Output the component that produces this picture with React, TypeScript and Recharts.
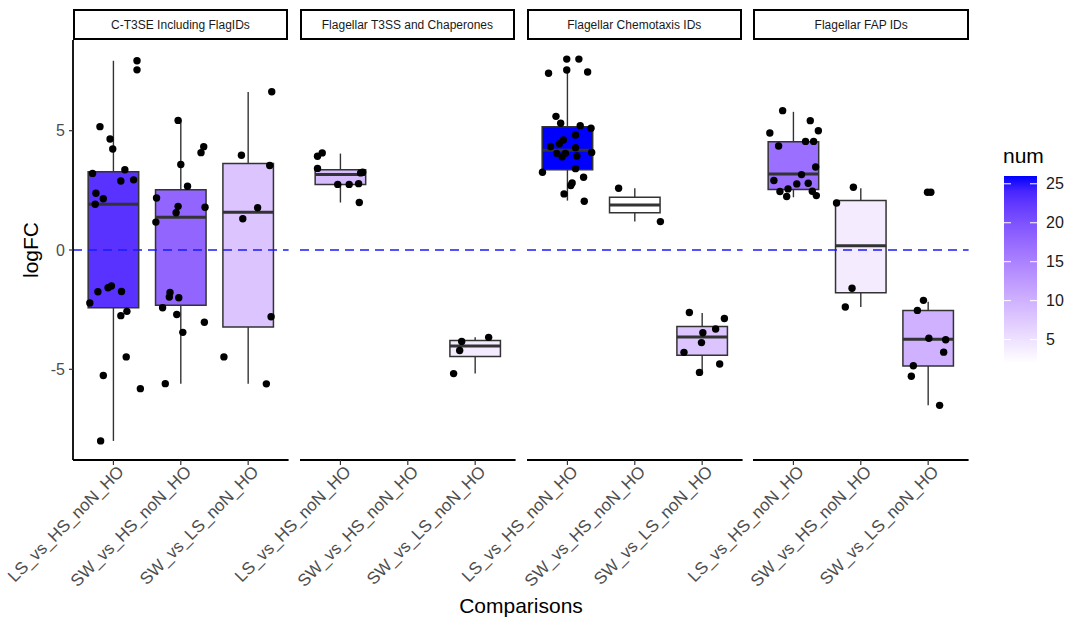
import React from "react";
import {
  ScatterChart,
  Scatter,
  XAxis,
  YAxis,
  ReferenceArea,
  ReferenceLine,
} from "recharts";

const facets = [
  "C-T3SE Including FlagIDs",
  "Flagellar T3SS and Chaperones",
  "Flagellar Chemotaxis IDs",
  "Flagellar FAP IDs",
];
const comparisons = ["LS_vs_HS_noN_HO", "SW_vs_HS_noN_HO", "SW_vs_LS_noN_HO"];
const yTicks = [-5, 0, 5];
const legendTicks = [5, 10, 15, 20, 25];
const numRange = [2, 26];

// box stats: [comparison, num, lower whisker, q1, median, q3, upper whisker]
const boxesCT3SE = [
  [1, 23, -8.0, -2.42, 1.92, 3.28, 7.93],
  [2, 18, -5.6, -2.31, 1.37, 2.53, 5.43],
  [3, 8, -5.6, -3.23, 1.58, 3.63, 6.62],
];
const boxesT3SS = [
  [1, 9, 1.99, 2.75, 3.16, 3.36, 4.04],
  [3, 4, -5.18, -4.46, -4.02, -3.79, -3.66],
];
const boxesChemo = [
  [1, 26, 2.07, 3.36, 4.18, 5.17, 7.54],
  [2, 2, 1.19, 1.56, 1.89, 2.21, 2.59],
  [3, 8, -5.21, -4.41, -3.65, -3.21, -2.64],
];
const boxesFAP = [
  [1, 17, 2.21, 2.54, 3.19, 4.54, 5.79],
  [2, 4, -2.39, -1.79, 0.18, 2.07, 2.59],
  [3, 10, -6.51, -4.86, -3.74, -2.53, -2.17],
];

// jittered genes: [comparison, jitter, logFC]
const pointsCT3SE = [
  [1, -0.2, 5.17], [1, -0.05, 4.65], [1, -0.01, 4.23], [1, 0.17, 3.36],
  [1, -0.31, 3.21], [1, 0.11, 2.89], [1, 0.3, 2.94], [1, -0.26, 2.38],
  [1, -0.15, 2.15], [1, -0.27, 1.92], [1, -0.35, -2.22], [1, -0.23, -1.75],
  [1, -0.08, -1.58], [1, -0.03, -1.51], [1, 0.12, -1.74], [1, 0.11, -2.75],
  [1, 0.2, -2.57], [1, 0.19, -4.48], [1, -0.15, -5.26], [1, 0.4, -5.81],
  [1, -0.19, -8.0], [1, 0.35, 7.93], [1, 0.35, 7.55],
  [2, -0.04, 5.43], [2, 0.34, 4.33], [2, 0.3, 4.08], [2, 0.0, 3.58],
  [2, 0.1, 2.67], [2, -0.36, 2.18], [2, -0.04, 1.83], [2, -0.07, 1.56],
  [2, 0.36, 1.79], [2, -0.37, 1.17], [2, -0.16, -1.78], [2, -0.17, -1.97],
  [2, -0.03, -2.0], [2, -0.27, -2.42], [2, -0.06, -2.7], [2, 0.35, -3.03],
  [2, 0.03, -3.45], [2, -0.23, -5.6],
  [3, 0.35, 6.63], [3, -0.1, 3.97], [3, 0.32, 3.54], [3, 0.14, 1.77],
  [3, -0.08, 1.31], [3, 0.34, -2.8], [3, -0.36, -4.48], [3, 0.27, -5.61],
];
const pointsT3SS = [
  [1, -0.34, 3.93], [1, -0.27, 4.07], [1, -0.34, 3.42], [1, -0.04, 2.75],
  [1, 0.13, 2.75], [1, 0.27, 2.78], [1, 0.3, 3.23], [1, 0.33, 3.26],
  [1, 0.28, 1.99],
  [3, -0.2, -3.83], [3, -0.23, -4.21], [3, 0.2, -3.66], [3, -0.32, -5.18],
];
const pointsChemo = [
  [1, -0.01, 8.0], [1, 0.17, 8.0], [1, -0.28, 7.41], [1, -0.01, 7.54],
  [1, 0.3, 7.46], [1, -0.17, 5.6], [1, -0.1, 5.31], [1, 0.19, 5.21],
  [1, 0.35, 5.1], [1, 0.12, 4.82], [1, -0.06, 4.61], [1, -0.25, 4.34],
  [1, 0.12, 4.29], [1, -0.16, 4.05], [1, -0.03, 4.05], [1, -0.08, 3.91],
  [1, 0.14, 3.94], [1, 0.36, 4.09], [1, 0.12, 3.41], [1, -0.37, 3.26],
  [1, 0.24, 3.05], [1, 0.07, 2.81], [1, 0.05, 2.7], [1, -0.05, 2.35],
  [1, 0.25, 2.04], [1, -0.12, 4.45],
  [2, -0.24, 2.59], [2, 0.38, 1.19],
  [3, -0.19, -2.62], [3, 0.33, -2.87], [3, 0.2, -3.31], [3, 0.01, -3.47],
  [3, -0.01, -3.88], [3, -0.27, -4.29], [3, 0.26, -4.78], [3, -0.04, -5.13],
];
const pointsFAP = [
  [1, -0.16, 5.84], [1, 0.25, 5.42], [1, 0.37, 5.0], [1, -0.35, 4.9],
  [1, 0.18, 4.55], [1, 0.3, 4.55], [1, -0.22, 4.36], [1, 0.33, 3.48],
  [1, 0.12, 3.16], [1, -0.29, 2.91], [1, 0.05, 2.77], [1, 0.22, 2.8],
  [1, -0.08, 2.56], [1, -0.2, 2.45], [1, 0.28, 2.46], [1, -0.1, 2.24],
  [1, 0.34, 2.28],
  [2, -0.11, 2.63], [2, -0.36, 1.97], [2, -0.13, -1.6], [2, -0.23, -2.39],
  [3, -0.01, 2.42], [3, 0.04, 2.42], [3, -0.07, -2.11], [3, -0.16, -2.53],
  [3, 0.01, -3.7], [3, 0.26, -3.76], [3, 0.23, -4.28], [3, -0.22, -4.85],
  [3, -0.25, -5.29], [3, 0.17, -6.51],
];

const facetBoxes = [boxesCT3SE, boxesT3SS, boxesChemo, boxesFAP];
const facetPoints = [pointsCT3SE, pointsT3SS, pointsChemo, pointsFAP];

// layout
const PANEL_LEFT = 72.7;
const PANEL_STEP = 226.9;
const PANEL_W = 215.6;
const PLOT_TOP = 40;
const PLOT_H = 420;
const AXIS_H = 140;
const PAD = 72;
const Y_AXIS_W = 30;
const BOX_HALF = 0.375;

// white -> blue ramp in CIELAB like ggplot's scale_fill_gradient
function labToHex(L: number, a: number, b: number) {
  const fy = (L + 16) / 116;
  const fx = fy + a / 500;
  const fz = fy - b / 200;
  const inv = (t: number) =>
    t > 6 / 29 ? t * t * t : 3 * (6 / 29) * (6 / 29) * (t - 4 / 29);
  const X = 0.95047 * inv(fx);
  const Y = inv(fy);
  const Z = 1.08883 * inv(fz);
  const lin = [
    3.2406 * X - 1.5372 * Y - 0.4986 * Z,
    -0.9689 * X + 1.8758 * Y + 0.0415 * Z,
    0.0557 * X - 0.204 * Y + 1.057 * Z,
  ];
  return (
    "#" +
    lin
      .map((c) => {
        const v = c <= 0.0031308 ? 12.92 * c : 1.055 * Math.pow(c, 1 / 2.4) - 0.055;
        return Math.round(Math.max(0, Math.min(1, v)) * 255)
          .toString(16)
          .padStart(2, "0");
      })
      .join("")
  );
}

function fillFor(num: number) {
  const t = (num - numRange[0]) / (numRange[1] - numRange[0]);
  return labToHex(100 + (32.3 - 100) * t, 79.19 * t, -107.86 * t);
}

const CmpTick = (props: any) => {
  const { x, y, payload } = props;
  return (
    <text
      x={x}
      y={y}
      dy="0.72em"
      dx={4}
      textAnchor="end"
      transform={`rotate(-45, ${x}, ${y})`}
      fill="#4d4d4d"
      fontSize={17}
    >
      {comparisons[payload.value - 1]}
    </text>
  );
};

const Dot = (props: any) => (
  <circle cx={props.cx} cy={props.cy} r={3.7} fill="#000" />
);

function Panel({ idx }: { idx: number }) {
  const boxes = facetBoxes[idx];
  const pts = facetPoints[idx].map(([c, j, y]) => ({ x: c + j, y }));
  const left = PANEL_LEFT + idx * PANEL_STEP;
  const first = idx === 0;
  return (
    <div style={{ position: "absolute", left: left - PAD, top: PLOT_TOP }}>
      <ScatterChart
        width={PAD + PANEL_W + 12}
        height={PLOT_H + AXIS_H}
        margin={{ top: 0, right: 12, bottom: 0, left: first ? PAD - Y_AXIS_W : PAD }}
      >
        <XAxis
          type="number"
          dataKey="x"
          domain={[0.4, 3.6]}
          ticks={[1, 2, 3]}
          interval={0}
          height={AXIS_H}
          tick={<CmpTick />}
          tickSize={5}
          tickMargin={2}
          tickLine={{ stroke: "#333", strokeWidth: 1.2 }}
          axisLine={{ stroke: "#000", strokeWidth: 1.8 }}
          allowDataOverflow
        />
        <YAxis
          type="number"
          dataKey="y"
          domain={[-8.8, 8.8]}
          ticks={yTicks}
          width={Y_AXIS_W}
          hide={!first}
          tick={{ fill: "#4d4d4d", fontSize: 16 }}
          tickSize={4}
          tickMargin={4}
          tickLine={{ stroke: "#333", strokeWidth: 1.2 }}
          axisLine={{ stroke: "#000", strokeWidth: 1.8 }}
          allowDataOverflow
        />
        {boxes.map(([c, num, lo, q1, med, q3, hi]) => (
          <ReferenceArea
            key={"a" + c}
            x1={c - BOX_HALF}
            x2={c + BOX_HALF}
            y1={q1}
            y2={q3}
            fill={fillFor(num)}
            fillOpacity={1}
            stroke="#333"
            strokeWidth={1.5}
          />
        ))}
        {boxes.map(([c, num, lo, q1, med, q3, hi]) => (
          <ReferenceLine
            key={"wu" + c}
            segment={[{ x: c, y: q3 }, { x: c, y: hi }]}
            stroke="#333"
            strokeWidth={1.4}
          />
        ))}
        {boxes.map(([c, num, lo, q1, med, q3, hi]) => (
          <ReferenceLine
            key={"wl" + c}
            segment={[{ x: c, y: lo }, { x: c, y: q1 }]}
            stroke="#333"
            strokeWidth={1.4}
          />
        ))}
        {boxes.map(([c, num, lo, q1, med, q3, hi]) => (
          <ReferenceLine
            key={"m" + c}
            segment={[{ x: c - BOX_HALF, y: med }, { x: c + BOX_HALF, y: med }]}
            stroke="#333"
            strokeWidth={3}
          />
        ))}
        <ReferenceLine y={0} stroke="#1a1aff" strokeWidth={1.6} strokeDasharray="9 6" />
        <Scatter data={pts} shape={<Dot />} isAnimationActive={false} />
      </ScatterChart>
    </div>
  );
}

export default function App() {
  const barTop = 176;
  const barH = 187;
  const stops = Array.from({ length: 13 }, (_, k) => k / 12);
  const tickY = (v: number) =>
    barTop + ((numRange[1] - v) / (numRange[1] - numRange[0])) * barH;
  return (
    <div
      style={{
        position: "relative",
        width: 1076,
        height: 621,
        background: "#fff",
        fontFamily: "Arial, 'Liberation Sans', sans-serif",
        overflow: "hidden",
      }}
    >
      <style>{"body{margin:0}"}</style>
      {facets.map((f, i) => (
        <div
          key={f}
          style={{
            position: "absolute",
            left: PANEL_LEFT + i * PANEL_STEP,
            top: 9,
            width: PANEL_W,
            height: 31,
            boxSizing: "border-box",
            border: "2px solid #000",
            fontSize: 12,
            color: "#1a1a1a",
            display: "flex",
            alignItems: "center",
            justifyContent: "center",
          }}
        >
          {f}
        </div>
      ))}
      {facets.map((f, i) => (
        <Panel key={"p" + f} idx={i} />
      ))}
      <div
        style={{
          position: "absolute",
          left: 31,
          top: 250,
          transform: "translate(-50%, -50%) rotate(-90deg)",
          fontSize: 21,
          whiteSpace: "nowrap",
        }}
      >
        logFC
      </div>
      <div
        style={{
          position: "absolute",
          left: 521,
          top: 606,
          transform: "translate(-50%, -50%)",
          fontSize: 21,
          whiteSpace: "nowrap",
        }}
      >
        Comparisons
      </div>
      <div style={{ position: "absolute", left: 1003, top: 144, fontSize: 21 }}>num</div>
      <svg
        style={{ position: "absolute", left: 0, top: 0 }}
        width={1076}
        height={621}
      >
        <defs>
          <linearGradient id="numGrad" x1="0" y1="0" x2="0" y2="1">
            {stops.map((s) => (
              <stop
                key={s}
                offset={s}
                stopColor={fillFor(numRange[1] - s * (numRange[1] - numRange[0]))}
              />
            ))}
          </linearGradient>
        </defs>
        <rect x={1004} y={barTop} width={33} height={barH} fill="url(#numGrad)" />
        {legendTicks.map((v) => (
          <g key={v}>
            <line x1={1004} x2={1011} y1={tickY(v)} y2={tickY(v)} stroke="#fff" strokeWidth={1} />
            <line x1={1030} x2={1037} y1={tickY(v)} y2={tickY(v)} stroke="#fff" strokeWidth={1} />
            <text x={1046} y={tickY(v)} dy="0.35em" fontSize={16} fill="#1a1a1a">
              {v}
            </text>
          </g>
        ))}
      </svg>
    </div>
  );
}
